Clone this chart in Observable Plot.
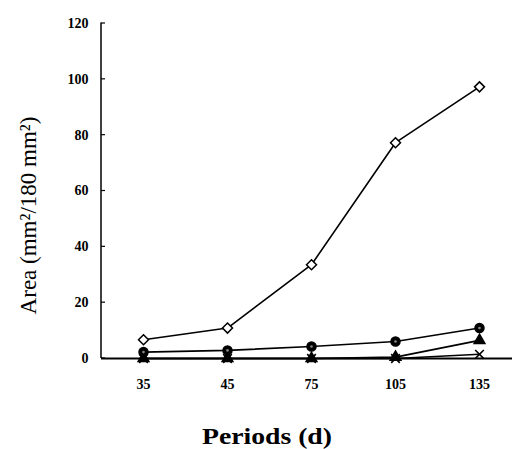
<!DOCTYPE html>
<html>
<head>
<meta charset="utf-8">
<script src="https://cdn.jsdelivr.net/npm/d3@7"></script>
<script src="https://cdn.jsdelivr.net/npm/@observablehq/plot@0.6"></script>
<style>
  html, body { margin: 0; padding: 0; background: #fff; }
  svg { display: block; }
</style>
</head>
<body>
<div id="chart"></div>
<script>
const periods = [35, 45, 75, 105, 135];
const diamondSeries = [6.7, 10.9, 33.6, 77.3, 97.3];
const circleSeries = [2.3, 2.9, 4.3, 6.1, 10.9];
const triangleSeries = [0, 0, 0, 0.5, 6.5];
const crossSeries = [0, 0, 0, 0, 1.5];
const yTicks = [0, 20, 40, 60, 80, 100, 120];
const yLabel = "Area (mm²/180 mm²)";
const xLabel = "Periods (d)";

const mk = (vals, name) => periods.map((p, i) => ({period: p, value: vals[i], series: name}));
const dDia = mk(diamondSeries, "diamond");
const dCir = mk(circleSeries, "circle");
const dTri = mk(triangleSeries, "triangle");
const dX = mk(crossSeries, "cross");

const font = "Liberation Serif, Times New Roman, serif";

// y axis line with inward ticks, drawn from the y scale
const yAxisLine = (index, scales, values, dims) => {
  const g = d3.create("svg:g").attr("stroke", "#000").attr("stroke-width", 1.5);
  const x0 = dims.marginLeft;
  g.append("line").attr("x1", x0).attr("x2", x0)
    .attr("y1", scales.y(120) - 0.5).attr("y2", scales.y(0));
  for (const t of yTicks) {
    g.append("line").attr("x1", x0).attr("x2", x0 + 4)
      .attr("y1", scales.y(t)).attr("y2", scales.y(t)).attr("stroke-width", 1.2);
  }
  return g.node();
};

// axis titles
const titles = (index, scales, values, dims) => {
  const g = d3.create("svg:g").attr("fill", "#000").attr("font-family", font);
  const midY = (scales.y(0) + scales.y(120)) / 2 + 25;
  g.append("text")
    .attr("transform", `translate(${dims.marginLeft - 65},${midY}) rotate(-90)`)
    .attr("text-anchor", "middle")
    .attr("font-size", 23)
    .text(yLabel);
  const midX = (scales.x(periods[0]) + scales.x(periods[periods.length - 1])) / 2 - 44;
  g.append("text")
    .attr("x", midX).attr("y", scales.y(0) + 86)
    .attr("text-anchor", "middle")
    .attr("font-size", 24)
    .attr("font-weight", "bold")
    .attr("textLength", 130)
    .attr("lengthAdjust", "spacingAndGlyphs")
    .text(xLabel);
  return g.node();
};

const chart = Plot.plot({
  width: 512,
  height: 449,
  marginLeft: 101,
  marginRight: 0,
  marginTop: 23,
  marginBottom: 91,
  style: {fontFamily: font, background: "#fff"},
  x: {type: "point", domain: periods, range: [143, 479], padding: 0},
  y: {domain: [0, 120], range: [358, 23]},
  marks: [
    Plot.axisY(yTicks, {tickSize: 0, tickPadding: 13, fontSize: 14, fontWeight: "bold", fontFamily: font, label: null, fill: "#000"}),
    Plot.axisX(periods, {tickSize: 0, tickPadding: 21, fontSize: 14, fontWeight: "bold", fontFamily: font, label: null, fill: "#000"}),
    Plot.ruleY([0], {stroke: "#000", strokeWidth: 1.8}),
    yAxisLine,
    Plot.line(dX, {x: "period", y: "value", stroke: "#000", strokeWidth: 1.6}),
    Plot.line(dTri, {x: "period", y: "value", stroke: "#000", strokeWidth: 1.6}),
    Plot.line(dCir, {x: "period", y: "value", stroke: "#000", strokeWidth: 1.6}),
    Plot.line(dDia, {x: "period", y: "value", stroke: "#000", strokeWidth: 1.6}),
    Plot.dot(dX, {x: "period", y: "value", symbol: "times", r: 4, stroke: "#000", strokeWidth: 1.6}),
    Plot.dot(dTri, {x: "period", y: "value", symbol: "triangle", r: 4, fill: "#000", stroke: "#000"}),
    Plot.dot(dCir, {x: "period", y: "value", symbol: "circle", r: 4.5, fill: "#000", stroke: "#000"}),
    Plot.dot(dCir, {x: "period", y: "value", symbol: "circle", r: 1.3, fill: "#888"}),
    Plot.dot(dDia, {x: "period", y: "value", symbol: "diamond2", r: 4.5, fill: "#fff", stroke: "#000", strokeWidth: 1.5}),
    titles
  ]
});
document.getElementById("chart").appendChild(chart);
</script>
</body>
</html>
